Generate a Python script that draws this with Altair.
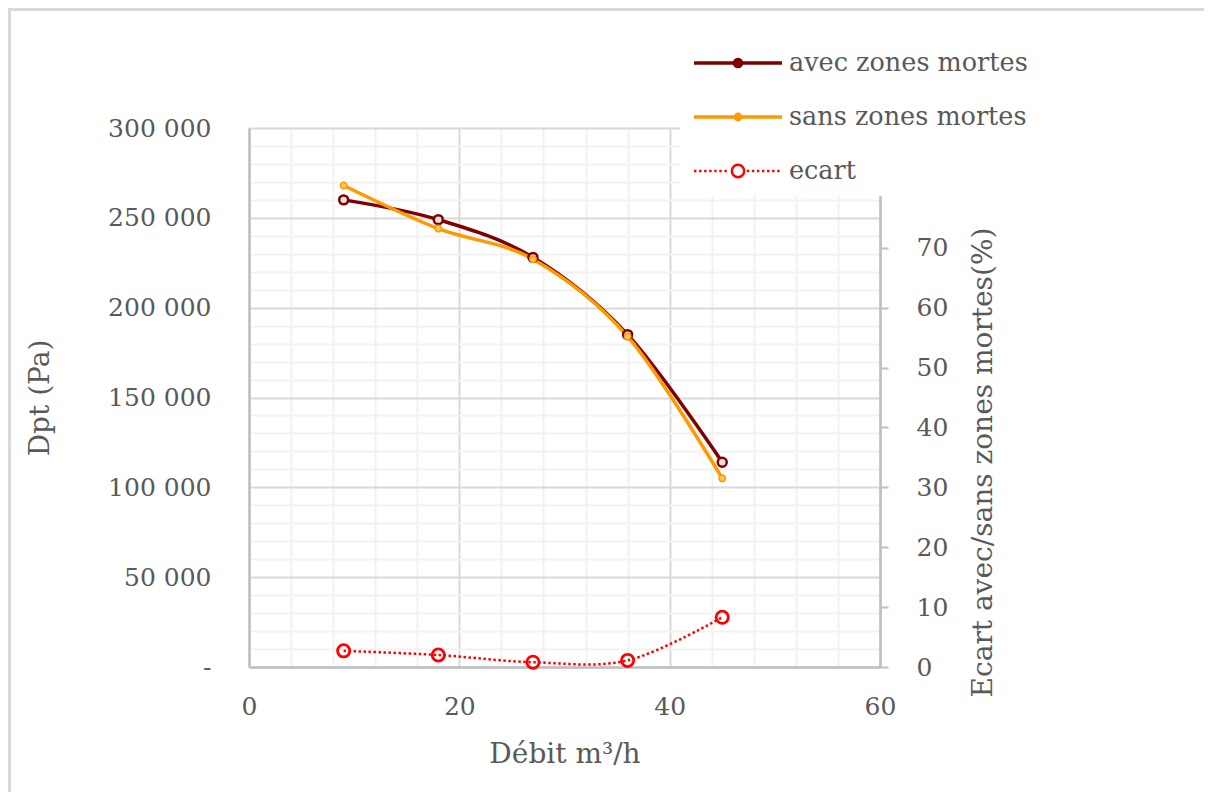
import altair as alt
import pandas as pd

# ---------------- data ----------------
debit = [9, 18, 27, 36, 45]
dpt_avec = [260000, 249000, 228000, 185000, 114000]
dpt_sans = [268000, 244000, 227000, 184000, 105000]
ecart = [2.7, 2.0, 0.8, 1.1, 8.3]

series_names = ["avec zones mortes", "sans zones mortes", "ecart"]
series_colors = ["#7F0000", "#FF9900", "#FF0000"]

x_ticks = list(range(0, 61, 4))
y_left_ticks = list(range(0, 300001, 10000))
y_right_ticks = list(range(0, 71, 10))

FONT = "DejaVu Serif"
TXT = "#595959"

dpt_df = pd.DataFrame({
    "debit": debit + debit,
    "dpt": dpt_avec + dpt_sans,
    "serie": [series_names[0]] * len(debit) + [series_names[1]] * len(debit),
})
ecart_df = pd.DataFrame({
    "debit": debit,
    "ecart": ecart,
    "serie": [series_names[2]] * len(debit),
})

# ---------------- legend symbols (line + marker) ----------------
def ring(r):
    return f"M{-r},0A{r},{r},0,1,1,{r},0A{r},{r},0,1,1,{-r},0Z"

path_avec = "M-1,0L1,0" + ring(0.08)
path_sans = "M-1,0L1,0" + ring(0.06)
segs = []
for a, b in [(-1.0, -0.2), (0.2, 1.0)]:
    p = a
    while p < b - 0.01:
        segs.append(f"M{p:.3f},0L{min(p + 0.055, b):.3f},0")
        p += 0.115
path_ecart = "".join(segs) + ring(0.14)

sym_expr = (f"(datum.value === '{series_names[2]}' ? '{path_ecart}' : "
            f"datum.value === '{series_names[1]}' ? '{path_sans}' : '{path_avec}')")
fill_expr = (f"(datum.value === '{series_names[2]}' ? '#FFFFFF' : "
             f"datum.value === '{series_names[1]}' ? '#FFB030' : '#7F0000')")
sw_expr = f"(datum.value === '{series_names[2]}' ? 2.5 : 3.5)"

legend = alt.Legend(
    title=None, orient="none", legendX=431, legendY=-90, direction="vertical",
    fillColor="white", padding=0, clipHeight=50, rowPadding=4,
    symbolSize=7744, symbolType=alt.ExprRef(expr=sym_expr),
    symbolFillColor=alt.ExprRef(expr=fill_expr),
    symbolStrokeWidth=alt.ExprRef(expr=sw_expr),
    symbolOffset=12, labelOffset=5,
    labelFont=FONT, labelFontSize=25.5, labelColor=TXT, labelLimit=400,
    zindex=1,
)

# ---------------- axes ----------------
x_axis = alt.Axis(
    values=x_ticks, title="Débit m³/h",
    labelExpr="datum.value % 20 == 0 ? datum.label : ''",
    gridColor={"condition": {"test": "datum.value % 20 == 0", "value": "#D9D9D9"}, "value": "#F2F2F2"},
    grid=True, ticks=False, tickSize=0, labelPadding=27,
    labelOverlap=False, labelFlush=False,
    titleX=315.5, titleY=95, titleBaseline="alphabetic", titleAlign="center",
)
x_enc = alt.X("debit:Q", scale=alt.Scale(domain=[0, 60], nice=False, zero=False), axis=x_axis)

y_left_axis = alt.Axis(
    values=y_left_ticks, title="Dpt (Pa)",
    labelExpr=("datum.value == 0 ? '-' : datum.value % 50000 == 0 ? "
               "format(datum.value / 1000, 'd') + ' 000' : ''"),
    gridColor={"condition": {"test": "datum.value % 50000 == 0", "value": "#D9D9D9"}, "value": "#F2F2F2"},
    grid=True, ticks=False, tickSize=0, labelPadding=38,
    labelOverlap=False, labelFlush=False,
    titleX=-209, titleY=269.5, titleAngle=270, titleAlign="center", titleBaseline="middle",
)
y_left = alt.Y("dpt:Q", scale=alt.Scale(domain=[0, 300000], nice=False), axis=y_left_axis)

y_right_axis = alt.Axis(
    orient="right", values=y_right_ticks, title="Ecart avec/sans zones mortes(%)",
    grid=False, ticks=True, tickSize=8, labelPadding=28,
    labelOverlap=False, labelFlush=False,
    titleX=103, titleY=334, titleAngle=270, titleAlign="center", titleBaseline="middle",
)
y_right = alt.Y("ecart:Q", scale=alt.Scale(domain=[0, 90], nice=False), axis=y_right_axis)

# ---------------- chart-area frame: thin filled bars on the top and left edges ----------------
frame_top = alt.Chart(pd.DataFrame({"k": [0]})).mark_rect(
    fill="#D9D9D9", strokeWidth=0
).encode(x=alt.value(-241), x2=alt.value(955), y=alt.value(-120), y2=alt.value(-117))
frame_left = alt.Chart(pd.DataFrame({"k": [0]})).mark_rect(
    fill="#D9D9D9", strokeWidth=0
).encode(x=alt.value(-241), x2=alt.value(-238), y=alt.value(-120), y2=alt.value(664))

# ---------------- data layers ----------------
dpt_lines = alt.Chart(dpt_df).mark_line(strokeWidth=3.5, interpolate="cardinal").encode(
    x=x_enc, y=y_left,
    color=alt.Color("serie:N", scale=alt.Scale(domain=series_names, range=series_colors), legend=legend),
)
avec_pts = alt.Chart(dpt_df).transform_filter(alt.datum.serie == series_names[0]).mark_point(
    shape="circle", size=80, filled=False, fill="#F2E0E0", stroke="#7F0000", strokeWidth=2.5, opacity=1
).encode(x=x_enc, y=y_left)
sans_pts = alt.Chart(dpt_df).transform_filter(alt.datum.serie == series_names[1]).mark_point(
    shape="circle", size=42, filled=False, fill="#FFC860", stroke="#FF9900", strokeWidth=1.5, opacity=1
).encode(x=x_enc, y=y_left)

ecart_line = alt.Chart(ecart_df).mark_line(
    stroke="#FF0000", strokeWidth=2.5, strokeDash=[2.5, 2.5], interpolate="cardinal"
).encode(x=x_enc, y=y_right)
ecart_pts = alt.Chart(ecart_df).mark_point(
    shape="circle", size=150, filled=False, stroke="#FF0000", strokeWidth=2.8, opacity=1
).encode(x=x_enc, y=y_right)

left = alt.layer(dpt_lines, avec_pts, sans_pts)
right = alt.layer(ecart_line, ecart_pts)

chart = alt.layer(frame_top, frame_left, left, right).resolve_scale(y="independent").properties(
    width=631, height=539,
    autosize=alt.AutoSizeParams(type="none"),
    padding={"left": 241, "top": 120, "right": 324, "bottom": 125},
    background="white",
).configure_view(stroke=None).configure_axis(
    labelFont=FONT, titleFont=FONT, labelFontSize=25, titleFontSize=28,
    labelColor=TXT, titleColor=TXT, titleFontWeight="normal",
    domainColor="#BFBFBF", domainWidth=2.5, gridWidth=2,
    tickColor="#BFBFBF", tickWidth=2,
)

chart.save("out.html", embed_options={"renderer": "svg", "actions": False})
